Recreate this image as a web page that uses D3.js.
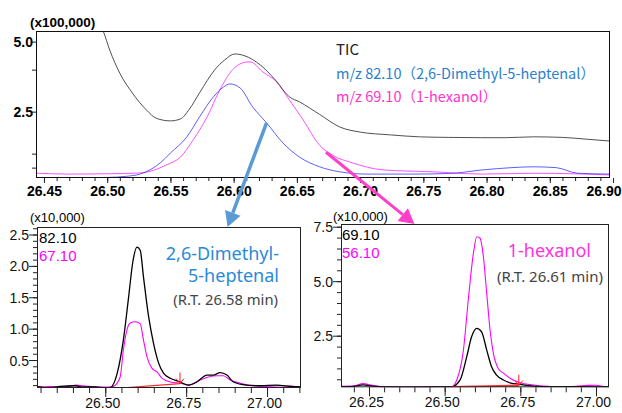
<!DOCTYPE html>
<html><head><meta charset="utf-8">
<script src="https://cdn.jsdelivr.net/npm/d3@7"></script>
<style>body{margin:0;background:#fff}svg{display:block}</style>
</head><body>
<svg id="c" width="622" height="413"></svg>
<script>
// ---------- DATA ----------
// Top panel (x100,000)
const ticTime  = [26.490,26.497,26.502,26.510,26.520,26.531,26.539,26.550,26.558,26.565,26.573,26.585,26.593,26.601,26.609,26.621,26.633,26.644,26.652,26.668,26.684,26.700,26.724,26.747,26.770,26.795,26.815,26.837,26.860,26.878,26.8976];
const ticValue = [6.0,5.36,4.70,3.87,3.16,2.56,2.26,2.17,2.24,2.59,3.17,3.99,4.35,4.56,4.49,4.17,3.63,3.03,2.85,2.40,1.95,1.77,1.67,1.60,1.58,1.57,1.57,1.60,1.58,1.52,1.45];
const mz82Time  = [26.4437,26.47,26.50,26.515,26.526,26.542,26.550,26.563,26.573,26.584,26.592,26.597,26.605,26.615,26.626,26.639,26.652,26.668,26.684,26.705,26.74,26.77,26.797,26.82,26.837,26.855,26.872,26.8976];
const mz82Value = [0.14,0.14,0.15,0.19,0.27,0.67,1.02,1.60,2.31,3.03,3.38,3.49,3.35,2.67,2.10,1.38,0.88,0.53,0.35,0.27,0.27,0.29,0.42,0.50,0.53,0.50,0.30,0.27];
const mz69Time  = [26.4437,26.47,26.50,26.526,26.547,26.558,26.568,26.579,26.589,26.599,26.607,26.613,26.623,26.634,26.644,26.655,26.668,26.678,26.694,26.718,26.758,26.797,26.837,26.87,26.8976];
const mz69Value = [0.30,0.27,0.28,0.31,0.60,0.88,1.49,2.31,3.27,3.99,4.24,4.28,3.92,3.56,2.92,2.20,1.30,0.95,0.67,0.42,0.35,0.27,0.30,0.28,0.24];
const topXTicks = [26.45,26.50,26.55,26.60,26.65,26.70,26.75,26.80,26.85,26.90];
const topYTicks = [2.5,5.0];
const topYMinor = [0.5,1.0,4.0];
const legendLabels = ["TIC","m/z 82.10（2,6-Dimethyl-5-heptenal）","m/z 69.10（1-hexanol）"];

// Bottom-left panel (x10,000)
const bl82Time  = [26.289,26.33,26.36,26.407,26.43,26.47,26.50,26.515,26.537,26.556,26.571,26.586,26.598,26.608,26.618,26.634,26.649,26.665,26.680,26.701,26.731,26.757,26.783,26.814,26.834,26.855,26.876,26.896,26.937,26.98,27.030,27.07,27.105];
const bl82Value = [0.07,0.06,0.08,0.09,0.07,0.07,0.06,0.06,0.29,0.82,1.45,2.09,2.30,2.25,1.83,1.19,0.77,0.45,0.29,0.21,0.15,0.10,0.15,0.26,0.26,0.30,0.26,0.15,0.10,0.09,0.10,0.08,0.07];
const bl67Time  = [26.289,26.31,26.33,26.35,26.37,26.39,26.41,26.43,26.45,26.48,26.51,26.525,26.546,26.556,26.567,26.577,26.593,26.608,26.618,26.629,26.644,26.660,26.675,26.701,26.731,26.757,26.793,26.819,26.845,26.865,26.886,26.917,26.95,27.00,27.05,27.105];
const bl67Value = [0.08,0.07,0.08,0.07,0.07,0.08,0.10,0.09,0.08,0.07,0.07,0.08,0.23,0.66,0.98,1.09,1.11,1.08,0.82,0.55,0.37,0.31,0.21,0.15,0.13,0.10,0.18,0.23,0.25,0.25,0.18,0.13,0.09,0.08,0.09,0.07];
const blBaseTime = [26.515,26.731];
const blBaseValue = [0.04,0.125];
const blXTicks = [26.50,26.75,27.00];
const blYTicks = [0.5,1.0,1.5,2.0,2.5];
const blLabels = ["82.10","67.10","2,6-Dimethyl-","5-heptenal","(R.T. 26.58 min)"];

// Bottom-right panel (x10,000)
const br56Time  = [26.1575,26.20,26.23,26.26,26.30,26.35,26.40,26.45,26.50,26.523,26.540,26.562,26.578,26.595,26.606,26.617,26.628,26.639,26.650,26.661,26.677,26.694,26.716,26.749,26.793,26.85,26.92,26.975,27.00,27.02,27.043];
const br56Value = [0.18,0.20,0.30,0.22,0.16,0.15,0.14,0.16,0.15,0.16,0.47,1.84,4.14,6.28,7.04,6.97,6.12,4.44,2.76,1.69,1.00,0.78,0.55,0.34,0.24,0.17,0.17,0.22,0.23,0.18,0.16];
const br69Time  = [26.1575,26.20,26.23,26.26,26.30,26.40,26.50,26.523,26.551,26.573,26.589,26.606,26.622,26.639,26.655,26.671,26.694,26.716,26.749,26.793,26.85,26.95,27.043];
const br69Value = [0.16,0.18,0.24,0.19,0.15,0.14,0.15,0.15,0.47,1.54,2.45,2.84,2.68,1.84,1.08,0.70,0.47,0.34,0.27,0.19,0.16,0.16,0.15];
const brBaseTime = [26.523,26.745];
const brBaseValue = [0.15,0.21];
const brXTicks = [26.25,26.50,26.75,27.00];
const brYTicks = [2.5,5.0,7.5];
const brLabels = ["69.10","56.10","1-hexanol","(R.T. 26.61 min)"];

// ---------- DRAW ----------
const svg = d3.select("#c");
const zip = (a,b)=>a.map((t,i)=>[t,b[i]]);

function panel(o){
  const g = svg.append("g");
  const x = d3.scaleLinear().domain(o.xd).range([o.l,o.r]);
  const y = d3.scaleLinear().domain(o.yd).range([o.b,o.t]);
  const id = "clip"+o.id;
  svg.append("clipPath").attr("id",id).append("rect")
     .attr("x",o.l).attr("y",o.t).attr("width",o.r-o.l).attr("height",o.b-o.t);
  const plot = g.append("g").attr("clip-path",`url(#${id})`);
  return {g,x,y,plot};
}
function drawLine(p,t,v,color,w,op){
  p.plot.append("path").datum(zip(t,v))
   .attr("fill","none").attr("stroke",color).attr("stroke-width",w||1)
   .attr("stroke-opacity",op||1).attr("stroke-linejoin","round")
   .attr("d",d3.line().x(d=>p.x(d[0])).y(d=>p.y(d[1])).curve(d3.curveMonotoneX));
}
function frame(p,o,col){
  p.g.append("rect").attr("x",o.l+0.5).attr("y",o.t+0.5)
   .attr("width",o.r-o.l-1).attr("height",o.b-o.t-1)
   .attr("fill","none").attr("stroke",col||"#222").attr("stroke-width",1);
}
function range(a,b,s){const r=[];for(let v=a;v<=b+1e-9;v+=s)r.push(+v.toFixed(4));return r;}

// ----- Top panel -----
const T = {id:"t",l:36,r:610,t:31,b:178,xd:[26.4437,26.8976],yd:[0.13,5.38]};
const pt = panel(T);
drawLine(pt,mz69Time,mz69Value,"#ff33ff",1,0.85);
drawLine(pt,mz82Time,mz82Value,"#2a2aff",1,0.75);
drawLine(pt,ticTime,ticValue,"#333",1,0.85);
frame(pt,T,"#111");
pt.g.append("g").attr("transform",`translate(0,${T.b})`)
  .call(d3.axisBottom(pt.x).tickValues(range(26.45,26.89,0.01)).tickSize(3).tickFormat(""))
  .call(a=>{a.select(".domain").remove();a.selectAll("line").attr("stroke","#222");});
pt.g.append("g").attr("transform",`translate(0,${T.b})`)
  .call(d3.axisBottom(pt.x).tickValues(topXTicks).tickSize(5).tickFormat(d3.format(".2f")))
  .call(a=>{a.select(".domain").remove();a.selectAll("line").attr("stroke","#222");
    a.selectAll("text").attr("font-family","Liberation Sans, Arial, sans-serif").attr("font-weight","bold")
     .attr("font-size",14).attr("fill","#000").attr("y",8)
     .filter(d=>d===26.90).attr("text-anchor","end").attr("dx",8);});
pt.g.append("g").attr("transform",`translate(${T.l},0)`)
  .call(d3.axisLeft(pt.y).tickValues(topYMinor).tickSize(4).tickFormat(""))
  .call(a=>{a.select(".domain").remove();a.selectAll("line").attr("stroke","#222");});
pt.g.append("g").attr("transform",`translate(${T.l},0)`)
  .call(d3.axisLeft(pt.y).tickValues(topYTicks).tickSize(4).tickFormat(d3.format(".1f")))
  .call(a=>{a.select(".domain").remove();a.selectAll("line").attr("stroke","#222");
    a.selectAll("text").attr("font-family","Liberation Sans, Arial, sans-serif").attr("font-weight","bold")
     .attr("font-size",14).attr("fill","#000").attr("x",-3).attr("dy","0.38em");});
pt.g.append("text").attr("x",30).attr("y",27).text("(x100,000)")
  .attr("font-family","Liberation Sans, Arial, sans-serif").attr("font-weight","bold").attr("font-size",13.5);
const legColors = ["#222","#2a7fd0","#ff33cc"];
legendLabels.forEach((s,i)=>{
  pt.g.append("text").attr("x",336).attr("y",55+i*23.5).text(s)
   .attr("font-family","'Noto Sans CJK JP','Noto Sans',sans-serif").attr("font-size",i===0?15:14.5)
   .attr("fill",legColors[i]);
});

// ----- Bottom-left panel -----
const L = {id:"l",l:37,r:301,t:227,b:388,xd:[26.289,27.105],yd:[0.054,2.62]};
const pl = panel(L);
drawLine(pl,bl67Time,bl67Value,"#ff00ff",1.1);
drawLine(pl,bl82Time,bl82Value,"#000",1.3);
drawLine(pl,blBaseTime,blBaseValue,"#ff2a2a",1.2);
frame(pl,L,"#222");
function bottomAxes(p,o,xMinor,xMajor,yMinor,yMajor,fmtY){
  const f = "Liberation Sans, Arial, sans-serif";
  p.g.append("g").attr("transform",`translate(0,${o.b})`)
   .call(d3.axisBottom(p.x).tickValues(xMinor).tickSize(5).tickFormat(""))
   .call(a=>{a.select(".domain").remove();a.selectAll("line").attr("stroke","#222");});
  p.g.append("g").attr("transform",`translate(0,${o.b})`)
   .call(d3.axisBottom(p.x).tickValues(xMajor).tickSize(9).tickFormat(d3.format(".2f")))
   .call(a=>{a.select(".domain").remove();a.selectAll("line").attr("stroke","#222");
     a.selectAll("text").attr("font-family",f).attr("font-size",14).attr("fill","#111").attr("y",10).attr("dx",-3);});
  p.g.append("g").attr("transform",`translate(${o.l},0)`)
   .call(d3.axisLeft(p.y).tickValues(yMinor).tickSize(4).tickFormat(""))
   .call(a=>{a.select(".domain").remove();a.selectAll("line").attr("stroke","#222");});
  p.g.append("g").attr("transform",`translate(${o.l},0)`)
   .call(d3.axisLeft(p.y).tickValues(yMajor).tickSize(8).tickFormat(fmtY))
   .call(a=>{a.select(".domain").remove();a.selectAll("line").attr("stroke","#222");
     a.selectAll("text").attr("font-family",f).attr("font-size",14).attr("fill","#111").attr("x",-8).attr("dy","0.36em");});
}
bottomAxes(pl,L,range(26.30,27.10,0.05),blXTicks,range(0.1,2.6,0.1),blYTicks,d3.format(".1f"));
function redArrow(p,t,v){
  const X=p.x(t), Y=p.y(v);
  p.g.append("path").attr("d",`M${X},${Y-11}L${X},${Y}M${X-4},${Y-5}L${X},${Y}L${X+4},${Y-5}`)
   .attr("fill","none").attr("stroke","#ff2020").attr("stroke-width",1);
}
redArrow(pl,blBaseTime[1],blBaseValue[1]);
const sans = "'Noto Sans','Noto Sans CJK JP',sans-serif";
pl.g.append("text").attr("x",30).attr("y",222).text("(x10,000)").attr("font-family","Liberation Sans, Arial, sans-serif").attr("font-size",13);
pl.g.append("text").attr("x",39).attr("y",243).text(blLabels[0]).attr("font-family","Liberation Sans, Arial, sans-serif").attr("font-size",15).attr("fill","#000");
pl.g.append("text").attr("x",39).attr("y",261).text(blLabels[1]).attr("font-family","Liberation Sans, Arial, sans-serif").attr("font-size",15).attr("fill","#ff00ff");
pl.g.append("text").attr("x",279).attr("y",260).attr("text-anchor","end").text(blLabels[2]).attr("font-family",sans).attr("font-size",18).attr("fill","#2a8ad8");
pl.g.append("text").attr("x",279).attr("y",282).attr("text-anchor","end").text(blLabels[3]).attr("font-family",sans).attr("font-size",18).attr("fill","#2a8ad8");
pl.g.append("text").attr("x",278).attr("y",305).attr("text-anchor","end").text(blLabels[4]).attr("font-family",sans).attr("font-size",14.8).attr("fill","#444");

// ----- Bottom-right panel -----
const R = {id:"r",l:341,r:609,t:224,b:387.3,xd:[26.1575,27.043],yd:[0.133,7.624]};
const pr = panel(R);
drawLine(pr,br56Time,br56Value,"#ff00ff",1.1);
drawLine(pr,br69Time,br69Value,"#000",1.3);
drawLine(pr,brBaseTime,brBaseValue,"#ff3030",2);
frame(pr,R,"#222");
bottomAxes(pr,R,range(26.20,27.00,0.05),brXTicks,range(0.5,7.5,0.5),brYTicks,d3.format(".1f"));
redArrow(pr,brBaseTime[1],brBaseValue[1]);
pr.g.append("text").attr("x",333).attr("y",221).text("(x10,000)").attr("font-family","Liberation Sans, Arial, sans-serif").attr("font-size",13);
pr.g.append("text").attr("x",342).attr("y",240).text(brLabels[0]).attr("font-family","Liberation Sans, Arial, sans-serif").attr("font-size",15).attr("fill","#000");
pr.g.append("text").attr("x",342).attr("y",258).text(brLabels[1]).attr("font-family","Liberation Sans, Arial, sans-serif").attr("font-size",15).attr("fill","#ff00ff");
pr.g.append("text").attr("x",591).attr("y",257).attr("text-anchor","end").text(brLabels[2]).attr("font-family",sans).attr("font-size",18).attr("fill","#ff33dd");
pr.g.append("text").attr("x",603).attr("y",282).attr("text-anchor","end").text(brLabels[3]).attr("font-family",sans).attr("font-size",15).attr("fill","#444");

// ----- Connecting arrows (anchored via scales) -----
const blueFrom = [26.626,2.10], blueTo = [26.878,2.62];
const pinkFrom = [26.673,1.05], pinkTo = [26.400,7.624];
function bigArrow(x1,y1,x2,y2,color,w,head){
  const ang = Math.atan2(y2-y1,x2-x1);
  const bx = x2 - head*Math.cos(ang), by = y2 - head*Math.sin(ang);
  svg.append("line").attr("x1",x1).attr("y1",y1).attr("x2",bx).attr("y2",by)
    .attr("stroke",color).attr("stroke-width",w);
  const hw = head*0.55;
  const px = -Math.sin(ang), py = Math.cos(ang);
  svg.append("path").attr("d",`M${x2},${y2}L${bx+px*hw},${by+py*hw}L${bx-px*hw},${by-py*hw}Z`).attr("fill",color);
}
bigArrow(pt.x(blueFrom[0]),pt.y(blueFrom[1]),pl.x(blueTo[0]),pl.y(blueTo[1]),"#5b9bd5",3.5,15);
bigArrow(pt.x(pinkFrom[0]),pt.y(pinkFrom[1]),pr.x(pinkTo[0]),pr.y(pinkTo[1]),"#ff3fc8",3,15);
</script>
</body></html>
